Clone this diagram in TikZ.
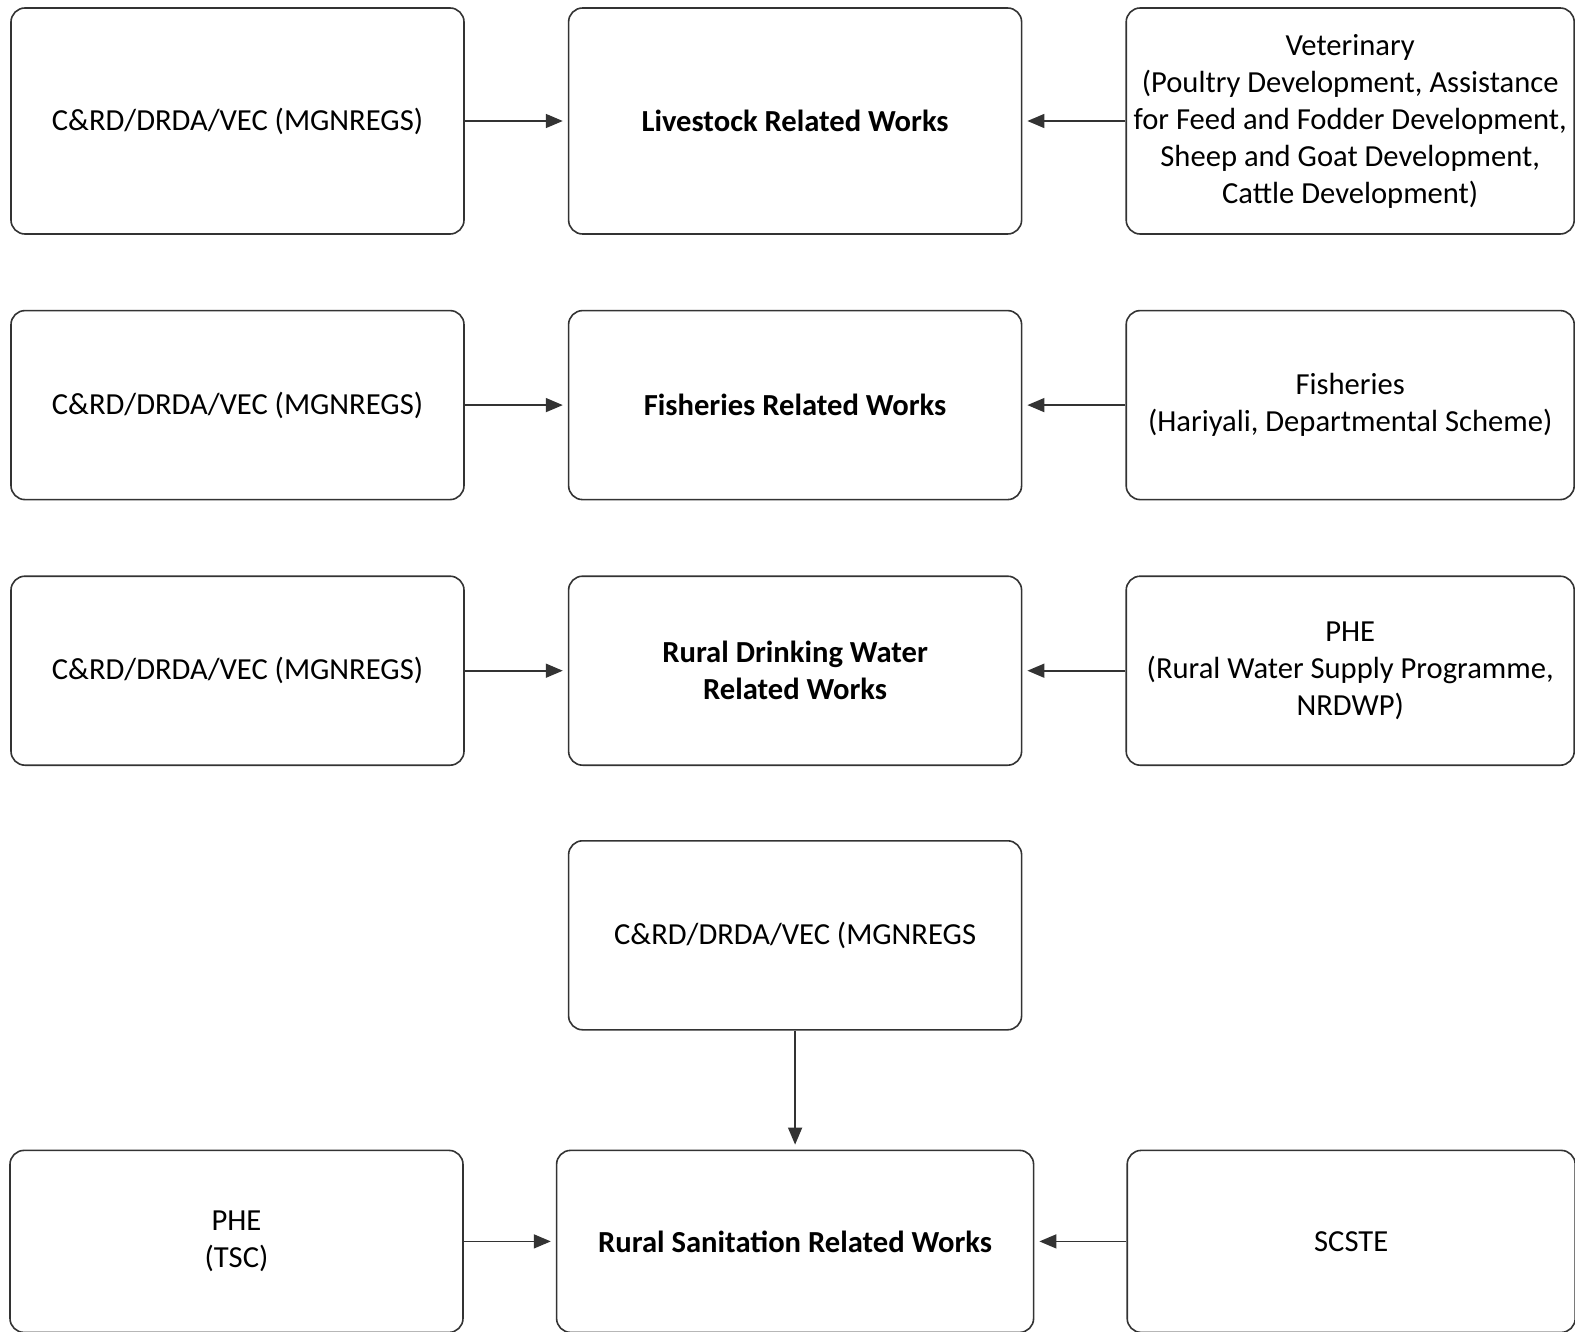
\documentclass[tikz,border=0pt]{standalone}
\usepackage{fontspec}
\setmainfont{Carlito}
\usetikzlibrary{positioning,arrows.meta}
\definecolor{linegray}{HTML}{333333}
\tikzset{
  box/.style={draw=linegray, line width=1.6pt, rounded corners=14pt,
    minimum width=453pt, minimum height=189pt, align=center, inner sep=0pt,
    font=\fontsize{30.6}{37}\selectfont},
  work/.style={box, font=\fontsize{30.6}{37}\selectfont\bfseries},
  link/.style={draw=linegray, line width=1.6pt, shorten >=5pt,
    -{Triangle[length=17pt,width=14pt]}}
}

\begin{document}
\begin{tikzpicture}[x=1pt, y=-1pt]
	\useasboundingbox (0,0) rectangle (1575,1332);
	
	% livestock
	\node[box, minimum height=226pt] (vecA) at (237.5,121) {C\&RD/DRDA/VEC (MGNREGS)};
	\node[work, minimum height=226pt, right=103pt of vecA] (livestock) {Livestock Related Works};
	\node[box, minimum height=226pt, minimum width=448pt, right=103pt of livestock] (vet)
		{Veterinary\\(Poultry Development, Assistance\\for Feed and Fodder Development,\\Sheep and Goat Development,\\Cattle Development)};
	
	% fisheries
	\node[box, below=75pt of vecA] (vecB) {C\&RD/DRDA/VEC (MGNREGS)};
	\node[work, right=103pt of vecB] (fish) {Fisheries Related Works};
	\node[box, minimum width=448pt, right=103pt of fish] (fishdept) {Fisheries\\(Hariyali, Departmental Scheme)};
	
	% drinking water
	\node[box, below=75pt of vecB] (vecC) {C\&RD/DRDA/VEC (MGNREGS)};
	\node[work, right=103pt of vecC] (water) {Rural Drinking Water\\Related Works};
	\node[box, minimum width=448pt, right=103pt of water] (pheA) {PHE\\(Rural Water Supply Programme,\\NRDWP)};
	
	% sanitation
	\node[box, below=74pt of water] (vecD) {C\&RD/DRDA/VEC (MGNREGS};
	\node[work, minimum width=477pt, minimum height=182pt, below=119pt of vecD] (sanit) {Rural Sanitation Related Works};
	\node[box, minimum height=182pt, left=92pt of sanit] (pheB) {PHE\\(TSC)};
	\node[box, minimum height=182pt, minimum width=448pt, right=92pt of sanit] (scste) {SCSTE};
	
	\draw[link] (vecA) -- (livestock);
	\draw[link] (vet) -- (livestock);
	\draw[link] (vecB) -- (fish);
	\draw[link] (fishdept) -- (fish);
	\draw[link] (vecC) -- (water);
	\draw[link] (pheA) -- (water);
	\draw[link] (vecD) -- (sanit);
	\draw[link] (pheB) -- (sanit);
	\draw[link] (scste) -- (sanit);
\end{tikzpicture}
\end{document}
